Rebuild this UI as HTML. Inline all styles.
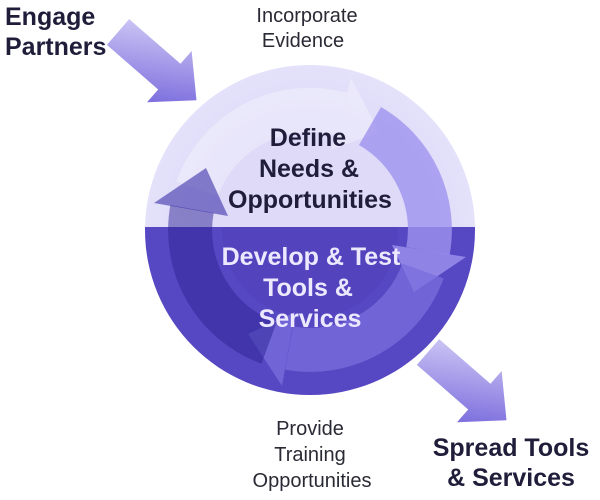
<!DOCTYPE html>
<html><head><style>
body{margin:0;width:600px;height:500px;background:#fff;overflow:hidden}
svg{display:block}
text{font-family:"Liberation Sans",sans-serif}
</style></head><body>
<svg width="600" height="500" viewBox="0 0 600 500">
<defs>
<clipPath id="top"><rect x="0" y="0" width="600" height="227"/></clipPath>
<clipPath id="bot"><rect x="0" y="227" width="600" height="300"/></clipPath>
<linearGradient id="ga" x1="0" y1="0" x2="1" y2="1"><stop offset="0" stop-color="#d8d3f8"/><stop offset="1" stop-color="#6a5ad8"/></linearGradient>
<radialGradient id="gc" cx="0.5" cy="0.5" r="0.5"><stop offset="0.6" stop-color="#dedaf8"/><stop offset="1" stop-color="#e4e1fa"/></radialGradient>
</defs>
<polygon transform="translate(118,32) rotate(41)" points="0,-17 68,-17 68,-34 104,0 68,34 68,17 0,17" fill="url(#ga)"/>
<polygon transform="translate(428,352) rotate(41)" points="0,-17 68,-17 68,-34 104,0 68,34 68,17 0,17" fill="url(#ga)"/>
<circle cx="310" cy="230" r="165" fill="url(#gc)" clip-path="url(#top)"/>
<circle cx="310" cy="230" r="165" fill="#5647c2" clip-path="url(#bot)"/>
<circle cx="310" cy="230" r="88" fill="#4a3cb5" opacity="0.25" clip-path="url(#bot)"/>
<g>
<path d="M197,189 A120,120 0 0 1 341,114" fill="none" stroke="#ffffff" stroke-opacity="0.3" stroke-width="44"/>
<polygon points="331,150 351,78 379,132" fill="#ffffff" fill-opacity="0.3"/>
<path d="M370,126 A120,120 0 0 1 428,251" fill="none" stroke="#9d92ef" stroke-opacity="0.8" stroke-width="44"/>
<polygon points="392,245 466,257 414,292" fill="#9d92ef" fill-opacity="0.8"/>
<path d="M423,271 A120,120 0 0 1 289,348" fill="none" stroke="#7a6ddc" stroke-opacity="0.75" stroke-width="44"/>
<polygon points="295,312 282,386 248,334" fill="#7a6ddc" fill-opacity="0.75"/>
<path d="M269,343 A120,120 0 0 1 192,209" fill="none" stroke="#2e2496" stroke-opacity="0.5" stroke-width="44"/>
<polygon points="228,216 154,203 206,168" fill="#3a30a8" fill-opacity="0.6"/>
</g>
<g font-weight="bold" font-size="25" text-anchor="middle">
<text x="308" y="146" fill="#1f1d3a">Define</text>
<text x="309" y="177" fill="#1f1d3a">Needs &amp;</text>
<text x="310" y="208" fill="#1f1d3a">Opportunities</text>
<text x="311" y="265" fill="#ece9ff">Develop &amp; Test</text>
<text x="308" y="296" fill="#ece9ff">Tools &amp;</text>
<text x="310" y="327" fill="#ece9ff">Services</text>
</g>
<g font-size="20" fill="#2a2a35" text-anchor="middle">
<text x="307" y="22">Incorporate</text>
<text x="303" y="47">Evidence</text>
<text x="310" y="435">Provide</text>
<text x="310" y="461">Training</text>
<text x="312" y="487">Opportunities</text>
</g>
<g font-size="25" font-weight="bold" fill="#1f1d3a">
<text x="5" y="25">Engage</text>
<text x="5" y="55">Partners</text>
<text x="511" y="456" text-anchor="middle">Spread Tools</text>
<text x="511" y="486" text-anchor="middle">&amp; Services</text>
</g>
</svg>
</body></html>
